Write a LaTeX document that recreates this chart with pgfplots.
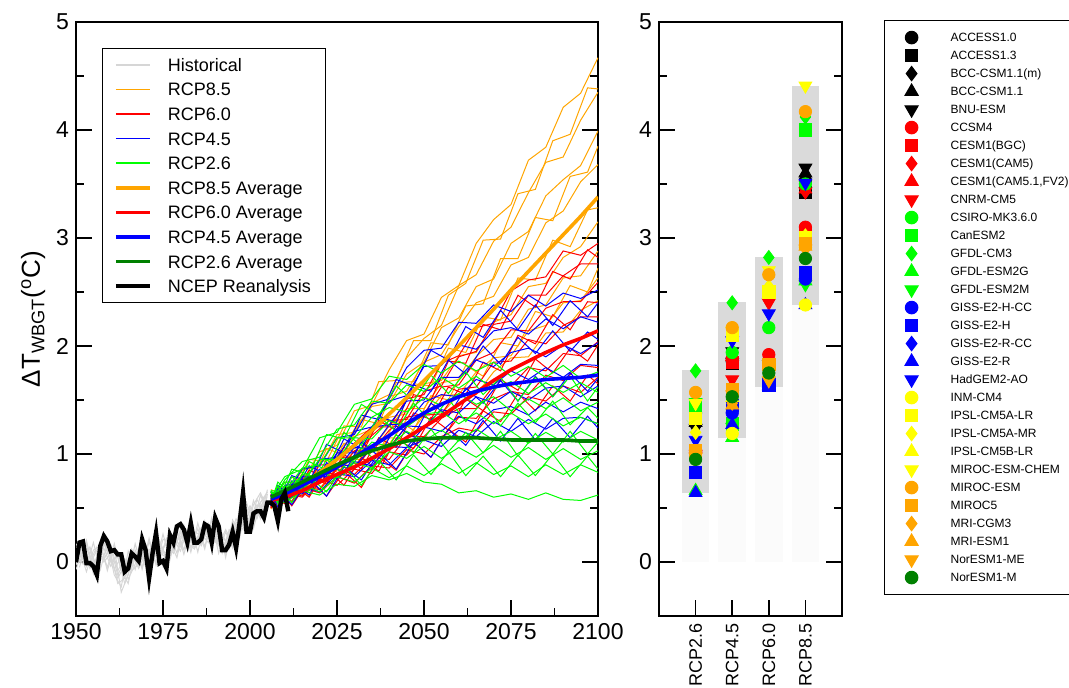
\documentclass[border=0pt]{standalone}
\usepackage{pgfplots}
\usepackage{pgfplotstable}
\pgfplotsset{compat=1.18}
\usepackage{fontspec}
\setmainfont{Liberation Sans}

\definecolor{cOrange}{HTML}{FFA500}
\definecolor{cRed}{HTML}{FF0000}
\definecolor{cBlue}{HTML}{0000FF}
\definecolor{cGreen}{HTML}{00FF00}
\definecolor{cYellow}{HTML}{FFFF00}
\definecolor{cDkGreen}{HTML}{008000}
\definecolor{cHist}{HTML}{D6D6D6}
\definecolor{cRange}{HTML}{DADADA}
\definecolor{cBase}{HTML}{FBFBFB}

% NCEP reanalysis, yearly
\pgfplotstableread{
year v
1950 0.00
1951 0.18
1952 0.19
1953 -0.01
1954 -0.01
1955 -0.04
1956 -0.12
1957 0.15
1958 0.24
1959 0.19
1960 0.10
1961 0.11
1962 0.07
1963 0.07
1964 -0.09
1965 -0.06
1966 0.08
1967 0.05
1968 0.01
1969 0.21
1970 0.11
1971 -0.15
1972 0.08
1973 0.27
1974 -0.01
1975 0.01
1976 -0.06
1977 0.25
1978 0.18
1979 0.33
1980 0.35
1981 0.30
1982 0.18
1983 0.36
1984 0.18
1985 0.18
1986 0.21
1987 0.35
1988 0.33
1989 0.18
1990 0.41
1991 0.33
1992 0.11
1993 0.11
1994 0.16
1995 0.28
1996 0.13
1997 0.36
1998 0.64
1999 0.28
2000 0.28
2001 0.45
2002 0.47
2003 0.47
2004 0.41
2005 0.55
2006 0.55
2007 0.52
2008 0.38
2009 0.58
2010 0.64
2011 0.47
}\ncep

% historical model runs
\pgfplotstableread{
year h1 h2 h3 h4 h5 h6
1950 .17 -.03 .07 -.07 .13 .01
1952 .03 .18 -.02 .12 .20 .00
1954 .14 -.02 .00 .12 -.06 .06
1956 -.06 .11 .14 -.08 .04 -.10
1958 .13 .03 .00 .18 .02 .18
1960 -.04 .13 .08 .00 .16 .04
1962 .08 -.12 -.20 .05 -.08 -.15
1964 -.11 .01 -.15 -.20 .03 -.03
1966 .12 -.06 .07 -.02 -.08 .08
1968 .00 .13 -.04 .10 -.02 -.06
1970 .13 .00 .16 -.04 .10 .08
1972 .00 .13 .03 .18 -.02 .14
1974 .15 .03 .18 .08 .20 .02
1976 .07 .20 .02 .17 .04 .22
1978 .25 .11 .20 .08 .22 .14
1980 .14 .27 .16 .30 .10 .24
1982 .26 .16 .30 .12 .30 .18
1984 .13 .25 .22 .27 .16 .12
1986 .30 .15 .17 .26 .32 .24
1988 .21 .32 .36 .18 .24 .34
1990 .34 .23 .20 .36 .18 .24
1992 .12 .24 .11 .10 .26 .08
1994 .25 .14 .28 .22 .12 .30
1996 .24 .37 .26 .40 .32 .22
1998 .45 .33 .48 .30 .44 .40
2000 .39 .48 .36 .50 .34 .52
2002 .53 .44 .50 .42 .58 .40
2004 .48 .57 .60 .54 .46 .58
2005 .57 .52 .60 .50 .63 .65
}\hist

\pgfplotstableread{
year g1 g2 g3 g4
1951 .19 -.05 .12 -.01
1953 -.04 .20 -.09 .16
1955 .18 -.07 .11 -.11
1957 -.07 .18 .15 .10
1959 .17 -.08 -.05 .19
1961 -.12 .13 .17 -.07
1963 -.23 -.28 -.08 .05
1965 .10 -.12 -.20 -.16
1967 -.07 .17 .11 -.02
1969 .19 -.07 -.05 .17
1971 -.05 .19 .22 -.05
1973 .19 -.01 -.03 .23
1975 -.04 .26 .21 .06
1977 .26 .02 .19 .04
1979 .08 .28 .04 .30
1981 .34 .11 .33 .07
1983 .09 .35 .13 .31
1985 .36 .09 .31 .16
1987 .14 .37 .12 .38
1989 .39 .17 .41 .15
1991 .08 .34 .17 .30
1993 .28 .04 .30 .08
1995 .13 .35 .17 .39
1997 .49 .22 .44 .26
1999 .30 .55 .28 .50
2001 .57 .35 .53 .31
2003 .40 .62 .64 .55
2005 .67 .47 .50 .65
}\histb

\pgfplotstableread{
year m1 m2 m3 m4 m5 m6 m7 m8 avg
2006 .57 .62 .53 .67 .49 .61 .54 .63 .57
2010 .74 .59 .71 .61 .67 .68 .69 .56 .63
2015 .74 .85 .73 .80 .78 .64 .62 .71 .72
2020 1.02 .89 .94 .79 .76 .85 .81 .68 .83
2025 1.08 1.18 .95 1.04 .97 .85 .91 .88 .95
2030 1.40 1.20 1.23 1.16 .96 1.03 .89 .95 1.08
2035 1.45 1.47 1.44 1.23 1.20 1.04 1.08 .95 1.22
2040 1.78 1.55 1.47 1.53 1.34 1.26 1.09 1.15 1.37
2045 2.05 1.89 1.74 1.58 1.37 1.42 1.32 1.14 1.52
2050 2.11 2.07 1.85 1.85 1.65 1.42 1.34 1.36 1.68
2055 2.45 2.19 2.17 1.92 1.68 1.66 1.54 1.37 1.84
2060 2.56 2.56 2.26 2.18 1.91 1.69 1.55 1.55 2.00
2065 2.95 2.66 2.55 2.40 1.94 1.90 1.76 1.55 2.17
2070 3.17 2.97 2.62 2.46 2.22 2.06 1.89 1.76 2.34
2075 3.31 3.10 2.95 2.75 2.29 2.08 1.91 1.89 2.52
2080 3.72 3.42 3.06 2.82 2.55 2.34 2.14 1.90 2.69
2085 3.84 3.70 3.39 3.14 2.58 2.38 2.19 2.12 2.86
2090 4.21 3.75 3.54 3.25 2.82 2.63 2.40 2.13 3.03
2095 4.34 4.09 3.67 3.52 2.92 2.65 2.42 2.33 3.20
2100 4.67 4.35 3.99 3.68 3.15 2.88 2.63 2.42 3.38
}\rcpEF

\pgfplotstableread{
year x1 x2 x3 x4
2006 .57 .62 .51 .65
2008 .71 .52 .69 .52
2012 .63 .79 .60 .74
2017 .95 .70 .85 .61
2022 .93 1.05 .79 .88
2027 1.26 .99 1.10 .80
2032 1.25 1.32 1.02 1.11
2037 1.67 1.28 1.34 1.02
2042 1.68 1.66 1.28 1.32
2047 2.05 1.67 1.65 1.22
2052 2.05 2.03 1.63 1.54
2057 2.47 2.01 1.98 1.50
2062 2.58 2.37 1.94 1.82
2067 2.98 2.39 2.27 1.72
2072 2.99 2.81 2.24 2.03
2077 3.41 2.81 2.63 2.00
2082 3.45 3.19 2.61 2.32
2087 3.90 3.16 2.98 2.27
2092 3.96 3.57 2.92 2.56
2097 4.39 3.61 3.26 2.50
2100 4.38 3.85 3.28 2.72
}\rcpEFb

\pgfplotstableread{
year m1 m2 m3 m4 m5 m6 m7 avg
2006 .57 .51 .62 .53 .60 .50 .61 .57
2010 .68 .65 .56 .67 .54 .64 .55 .60
2015 .66 .77 .72 .61 .70 .60 .69 .66
2020 .90 .76 .84 .80 .67 .77 .64 .74
2025 .90 .97 .81 .89 .86 .71 .79 .81
2030 1.10 .97 1.03 .86 .81 .86 .73 .88
2035 1.25 1.17 1.02 1.06 .97 .82 .89 .96
2040 1.25 1.31 1.22 1.06 .95 1.02 .87 1.05
2045 1.51 1.32 1.34 1.26 1.16 .99 1.04 1.15
2050 1.55 1.58 1.37 1.36 1.16 1.16 1.00 1.25
2055 1.84 1.63 1.62 1.37 1.33 1.14 1.16 1.35
2060 1.91 1.90 1.64 1.60 1.42 1.34 1.24 1.46
2065 2.17 1.95 1.87 1.62 1.42 1.33 1.21 1.57
2070 2.21 2.20 1.94 1.85 1.63 1.51 1.39 1.68
2075 2.51 2.23 2.15 1.86 1.63 1.58 1.37 1.78
2080 2.61 2.47 2.14 2.06 1.80 1.55 1.53 1.86
2085 2.64 2.47 2.35 2.02 1.77 1.73 1.49 1.94
2090 2.88 2.65 2.41 2.19 1.93 1.68 1.63 2.01
2095 2.84 2.76 2.41 2.27 1.91 1.82 1.57 2.07
2100 2.95 2.76 2.59 2.27 2.04 1.80 1.71 2.14
}\rcpSX

\pgfplotstableread{
year x1 x2 x3 x4
2006 .60 .50 .63 .52
2008 .68 .66 .49 .68
2012 .56 .53 .72 .52
2017 .85 .80 .60 .76
2022 .77 .72 .86 .61
2027 1.06 1.00 .71 .84
2032 .99 .86 .97 .69
2037 1.31 1.15 .84 .97
2042 1.22 1.06 1.14 .85
2047 1.55 1.38 1.05 1.11
2052 1.50 1.32 1.34 .97
2057 1.86 1.62 1.22 1.23
2062 1.84 1.55 1.51 1.11
2067 2.20 1.85 1.40 1.40
2072 2.15 1.77 1.69 1.30
2077 2.47 2.10 1.59 1.56
2082 2.36 2.02 1.88 1.40
2087 2.69 2.29 1.75 1.63
2092 2.62 2.15 1.98 1.49
2097 2.89 2.41 1.86 1.73
2100 2.82 2.40 2.01 1.65
}\rcpSXb

\pgfplotstableread{
year m1 m2 m3 m4 m5 m6 m7 avg
2006 .63 .53 .65 .55 .62 .52 .61 .58
2010 .61 .71 .60 .68 .56 .66 .56 .63
2015 .86 .73 .79 .66 .75 .63 .70 .71
2020 .89 .95 .78 .86 .73 .80 .65 .79
2025 1.15 .97 1.01 .86 .91 .77 .82 .88
2030 1.18 1.21 1.01 1.06 .88 .93 .79 .97
2035 1.46 1.25 1.25 1.05 1.06 .89 .94 1.07
2040 1.51 1.49 1.27 1.27 1.05 1.07 .90 1.17
2045 1.80 1.54 1.49 1.28 1.26 1.06 1.06 1.28
2050 1.96 1.81 1.50 1.48 1.25 1.25 1.13 1.38
2055 1.98 1.82 1.71 1.55 1.41 1.21 1.07 1.46
2060 2.22 2.01 1.71 1.53 1.38 1.35 1.22 1.53
2065 2.21 1.97 1.87 1.69 1.53 1.28 1.16 1.58
2070 2.38 2.14 1.81 1.64 1.47 1.41 1.30 1.62
2075 2.32 2.17 1.94 1.77 1.58 1.44 1.21 1.65
2080 2.47 2.11 1.98 1.69 1.50 1.36 1.32 1.67
2085 2.37 2.25 1.90 1.80 1.61 1.48 1.23 1.69
2090 2.49 2.16 2.01 1.71 1.63 1.39 1.33 1.70
2095 2.44 2.27 1.93 1.83 1.53 1.48 1.34 1.71
2100 2.52 2.22 2.03 1.82 1.63 1.42 1.28 1.73
}\rcpFF

\pgfplotstableread{
year x1 x2 x3 x4
2006 .62 .52 .65 .54
2008 .55 .71 .51 .68
2012 .80 .60 .75 .53
2017 .74 .89 .62 .77
2022 1.09 .81 .92 .61
2027 1.01 1.14 .82 .88
2032 1.36 1.05 1.11 .76
2037 1.32 1.35 .98 1.01
2042 1.69 1.29 1.26 .86
2047 1.63 1.64 1.16 1.11
2052 1.96 1.58 1.47 .97
2057 1.87 1.87 1.35 1.23
2062 2.18 1.74 1.61 1.08
2067 2.08 2.00 1.47 1.31
2072 2.33 1.83 1.68 1.12
2077 2.15 2.08 1.49 1.33
2082 2.38 1.93 1.72 1.13
2087 2.19 2.14 1.53 1.33
2092 2.42 1.95 1.75 1.15
2097 2.27 2.13 1.58 1.35
2100 2.40 2.06 1.70 1.24
}\rcpFFb

\pgfplotstableread{
year m1 m2 m3 m4 m5 m6 m7 m8 avg
2006 .60 .55 .66 .56 .65 .54 .64 .58 .60
2010 .79 .76 .65 .74 .61 .70 .58 .55 .66
2015 .86 .93 .87 .74 .81 .67 .72 .66 .74
2020 1.15 .97 .90 .95 .79 .83 .65 .62 .82
2025 1.20 1.23 1.15 .95 .97 .78 .79 .72 .90
2030 1.46 1.27 1.15 1.15 .93 .92 .74 .70 .97
2035 1.51 1.49 1.34 1.14 1.11 .87 .87 .80 1.03
2040 1.72 1.47 1.43 1.31 1.07 1.02 .78 .76 1.08
2045 1.69 1.64 1.39 1.25 1.21 .96 .89 .82 1.12
2050 1.83 1.58 1.52 1.37 1.12 1.07 .80 .74 1.14
2055 1.75 1.71 1.45 1.39 1.22 .96 .91 .72 1.15
2060 1.86 1.61 1.56 1.28 1.12 1.06 .82 .64 1.15
2065 1.77 1.72 1.46 1.38 1.23 .97 .92 .66 1.15
2070 1.85 1.60 1.53 1.28 1.13 1.08 .81 .60 1.14
2075 1.72 1.67 1.40 1.38 1.21 .97 .89 .63 1.13
2080 1.81 1.56 1.51 1.28 1.10 1.06 .79 .58 1.13
2085 1.71 1.66 1.42 1.37 1.20 .95 .90 .64 1.13
2090 1.82 1.57 1.52 1.26 1.11 1.05 .81 .58 1.13
2095 1.70 1.66 1.40 1.34 1.21 .95 .90 .57 1.12
2100 1.76 1.57 1.48 1.28 1.13 1.03 .83 .62 1.12
}\rcpTS

\pgfplotstableread{
year x1 x2 x3 x4
2006 .65 .55 .66 .56
2008 .56 .74 .54 .70
2012 .86 .63 .79 .55
2017 .81 .93 .66 .79
2022 1.18 .85 .95 .65
2027 1.14 1.20 .81 .89
2032 1.46 1.08 1.06 .71
2037 1.36 1.35 .91 .94
2042 1.63 1.21 1.18 .76
2047 1.49 1.47 1.01 .99
2052 1.73 1.30 1.23 .81
2057 1.56 1.51 1.02 1.02
2062 1.76 1.30 1.20 .80
2067 1.55 1.49 1.01 .98
2072 1.71 1.26 1.21 .79
2077 1.49 1.47 .98 .99
2082 1.71 1.29 1.19 .80
2087 1.53 1.49 1.00 1.00
2092 1.72 1.27 1.21 .79
2097 1.49 1.43 1.00 .98
2100 1.62 1.33 1.11 .86
}\rcpTSb

\pgfplotsset{
  panel/.style={
    scale only axis, height=297pt, ymin=-0.5, ymax=5,
    ytick={0,1,2,3,4,5}, minor y tick num=1,
    tick align=inside, xtick pos=left, ytick pos=both,
    major tick length=8pt, minor tick length=4pt,
    axis line style={line width=0.9pt},
    every tick/.style={black, line width=0.8pt},
    tick label style={font=\fontsize{11.5}{13}\selectfont},
    /pgf/number format/assume math mode=true,
    /pgf/number format/1000 sep={},
  },
  memb/.style={line width=0.5pt, forget plot},
  cir/.style={only marks, mark=*, color=#1},
  sqr/.style={only marks, mark=square*, color=#1},
  dia/.style={only marks, mark=diamond*, color=#1, mark size=3.5pt},
  tri/.style={only marks, mark=triangle*, color=#1, mark size=3.7pt},
  dtr/.style={only marks, mark=triangle*, color=#1, mark size=3.7pt, mark options={rotate=180}},
}

\begin{document}
\begin{tikzpicture}
\useasboundingbox (-38pt,-36pt) rectangle (496.5pt,308pt);

\begin{axis}[panel,
  at={(0pt,0pt)}, anchor=south west, width=261pt,
  xmin=1950, xmax=2100, xtick={1950,1975,2000,2025,2050,2075,2100}, minor x tick num=1,
  ylabel={ΔT\textsubscript{WBGT}(\textsuperscript{o}C)},
  ylabel style={at={(axis description cs:-0.082,0.5)}, anchor=center, font=\fontsize{13}{15}\selectfont},
  legend style={at={(0.0498,0.956)}, anchor=north west, draw=black, line width=0.6pt,
    font=\fontsize{9}{10}\selectfont, inner xsep=5.5pt, inner ysep=1.85pt,
    nodes={inner xsep=2pt, inner ysep=0pt, text height=9.45pt, text depth=2.85pt}},
  legend cell align=left,
  legend image code/.code={\draw[#1] (0pt,0pt) -- (17pt,0pt); \path[draw=none] (24pt,0pt);},
]
% historical runs
\foreach \c in {h1,h2,h3,h4,h5,h6} {
  \addplot[memb, cHist] table[y=\c] {\hist};
}
\foreach \c in {g1,g2,g3,g4} {
  \addplot[memb, cHist] table[y=\c] {\histb};
}
% scenario members
\foreach \c in {m1,m2,m3,m4,m5,m6,m7,m8} {
  \addplot[memb, cOrange] table[y=\c] {\rcpEF};
}
\foreach \c in {x1,x2,x3,x4} {
  \addplot[memb, cOrange] table[y=\c] {\rcpEFb};
}
\foreach \c in {m1,m2,m3,m4,m5,m6,m7} {
  \addplot[memb, cRed] table[y=\c] {\rcpSX};
}
\foreach \c in {x1,x2,x3,x4} {
  \addplot[memb, cRed] table[y=\c] {\rcpSXb};
}
\foreach \c in {m1,m2,m3,m4,m5,m6,m7} {
  \addplot[memb, cBlue] table[y=\c] {\rcpFF};
}
\foreach \c in {x1,x2,x3,x4} {
  \addplot[memb, cBlue] table[y=\c] {\rcpFFb};
}
\foreach \c in {m1,m2,m3,m4,m5,m6,m7,m8} {
  \addplot[memb, cGreen] table[y=\c] {\rcpTS};
}
\foreach \c in {x1,x2,x3,x4} {
  \addplot[memb, cGreen] table[y=\c] {\rcpTSb};
}
% ensemble averages
\addplot[cOrange, line width=1.8pt, forget plot] table[y=avg] {\rcpEF};
\addplot[cRed, line width=1.8pt, forget plot] table[y=avg] {\rcpSX};
\addplot[cBlue, line width=1.8pt, forget plot] table[y=avg] {\rcpFF};
\addplot[cDkGreen, line width=1.8pt, forget plot] table[y=avg] {\rcpTS};
% reanalysis
\addplot[black, line width=2.2pt, forget plot] table[y=v] {\ncep};

\addlegendimage{cHist, line width=1pt}\addlegendentry{Historical}
\addlegendimage{cOrange, line width=0.8pt}\addlegendentry{RCP8.5}
\addlegendimage{cRed, line width=0.8pt}\addlegendentry{RCP6.0}
\addlegendimage{cBlue, line width=0.8pt}\addlegendentry{RCP4.5}
\addlegendimage{cGreen, line width=0.8pt}\addlegendentry{RCP2.6}
\addlegendimage{cOrange, line width=1.8pt}\addlegendentry{RCP8.5 Average}
\addlegendimage{cRed, line width=1.8pt}\addlegendentry{RCP6.0 Average}
\addlegendimage{cBlue, line width=1.8pt}\addlegendentry{RCP4.5 Average}
\addlegendimage{cDkGreen, line width=1.8pt}\addlegendentry{RCP2.6 Average}
\addlegendimage{black, line width=2.2pt}\addlegendentry{NCEP Reanalysis}
\end{axis}

\begin{axis}[panel,
  at={(291.5pt,0pt)}, anchor=south west, width=91.5pt,
  xmin=0, xmax=5, xtick={1,2,3,4},
  xticklabels={RCP2.6,RCP4.5,RCP6.0,RCP8.5},
  xticklabel style={rotate=90, anchor=east, font=\fontsize{9}{10}\selectfont},
  mark size=3.1pt,
  legend style={at={(1.2295,1.0034)}, anchor=north west, draw=black, line width=0.6pt,
    font=\fontsize{6}{7}\selectfont, inner xsep=3pt, inner ysep=4pt,
    nodes={inner xsep=2pt, inner ysep=0pt, text height=6.65pt, text depth=2.35pt}},
  legend cell align=left,
  legend image code/.code={\path[draw=none] (0pt,0pt) -- (28pt,0pt); \draw[#1] plot coordinates {(10.5pt,0pt)};},
]
% faint base up to the lowest model, then grey range lowest..highest model
\addplot[draw=none, fill=cBase, forget plot]
  coordinates {(0.625,0) (1.375,0) (1.375,0.64) (0.625,0.64)} --cycle;
\addplot[draw=none, fill=cBase, forget plot]
  coordinates {(1.625,0) (2.375,0) (2.375,1.15) (1.625,1.15)} --cycle;
\addplot[draw=none, fill=cBase, forget plot]
  coordinates {(2.625,0) (3.375,0) (3.375,1.62) (2.625,1.62)} --cycle;
\addplot[draw=none, fill=cBase, forget plot]
  coordinates {(3.625,0) (4.375,0) (4.375,2.38) (3.625,2.38)} --cycle;
\addplot[draw=none, fill=cRange, forget plot]
  coordinates {(0.625,0.64) (1.375,0.64) (1.375,1.78) (0.625,1.78)} --cycle;
\addplot[draw=none, fill=cRange, forget plot]
  coordinates {(1.625,1.15) (2.375,1.15) (2.375,2.41) (1.625,2.41)} --cycle;
\addplot[draw=none, fill=cRange, forget plot]
  coordinates {(2.625,1.62) (3.375,1.62) (3.375,2.82) (2.625,2.82)} --cycle;
\addplot[draw=none, fill=cRange, forget plot]
  coordinates {(3.625,2.38) (4.375,2.38) (4.375,4.41) (3.625,4.41)} --cycle;

\addplot[cir=black] coordinates {(2,1.86) (4,3.53)};
\addlegendentry{ACCESS1.0}
\addplot[sqr=black] coordinates {(2,1.84) (4,3.42)};
\addlegendentry{ACCESS1.3}
\addplot[dia=black] coordinates {(1,1.26) (2,1.88) (3,1.84) (4,2.97)};
\addlegendentry{BCC-CSM1.1(m)}
\addplot[tri=black] coordinates {(1,1.29) (2,1.92) (3,1.90) (4,3.60)};
\addlegendentry{BCC-CSM1.1}
\addplot[dtr=black] coordinates {(1,1.24) (2,1.95) (4,3.65)};
\addlegendentry{BNU-ESM}
\addplot[cir=cRed] coordinates {(1,1.03) (2,1.88) (3,1.92) (4,3.10)};
\addlegendentry{CCSM4}
\addplot[sqr=cRed] coordinates {(2,1.85) (4,3.05)};
\addlegendentry{CESM1(BGC)}
\addplot[dia=cRed] coordinates {(1,1.00) (2,1.60) (3,2.43) (4,3.43)};
\addlegendentry{CESM1(CAM5)}
\addplot[tri=cRed] coordinates {(1,1.05) (2,1.90) (4,3.45)};
\addlegendentry{{CESM1(CAM5.1,FV2)}}
\addplot[dtr=cRed] coordinates {(1,1.00) (2,1.69) (3,2.40) (4,3.43)};
\addlegendentry{CNRM-CM5}
\addplot[cir=cGreen] coordinates {(1,1.38) (2,1.94) (3,2.17) (4,3.50)};
\addlegendentry{CSIRO-MK3.6.0}
\addplot[sqr=cGreen] coordinates {(1,1.45) (2,1.28) (4,4.00)};
\addlegendentry{CanESM2}
\addplot[dia=cGreen] coordinates {(1,1.77) (2,2.40) (3,2.82) (4,4.12)};
\addlegendentry{GFDL-CM3}
\addplot[tri=cGreen] coordinates {(1,0.66) (2,1.15) (3,1.65) (4,2.60)};
\addlegendentry{GFDL-ESM2G}
\addplot[dtr=cGreen] coordinates {(1,1.48) (2,1.25) (3,1.67) (4,2.57)};
\addlegendentry{GFDL-ESM2M}
\addplot[cir=cBlue] coordinates {(2,1.38) (4,2.62)};
\addlegendentry{GISS-E2-H-CC}
\addplot[sqr=cBlue] coordinates {(1,0.83) (2,1.45) (3,1.64) (4,2.68)};
\addlegendentry{GISS-E2-H}
\addplot[dia=cBlue] coordinates {(2,1.40)};
\addlegendentry{GISS-E2-R-CC}
\addplot[tri=cBlue] coordinates {(1,0.64) (2,1.27) (3,1.63) (4,2.38)};
\addlegendentry{GISS-E2-R}
\addplot[dtr=cBlue] coordinates {(1,1.13) (2,2.05) (3,2.30) (4,3.51)};
\addlegendentry{HadGEM2-AO}
\addplot[cir=cYellow] coordinates {(2,1.19) (4,2.38)};
\addlegendentry{INM-CM4}
\addplot[sqr=cYellow] coordinates {(1,1.33) (2,2.10) (3,2.50) (4,3.00)};
\addlegendentry{IPSL-CM5A-LR}
\addplot[dia=cYellow] coordinates {(1,1.20) (2,2.12) (3,2.55) (4,3.02)};
\addlegendentry{IPSL-CM5A-MR}
\addplot[tri=cYellow] coordinates {(2,1.52) (4,2.95)};
\addlegendentry{IPSL-CM5B-LR}
\addplot[dtr=cYellow] coordinates {(1,1.47) (2,2.14) (3,2.70) (4,4.41)};
\addlegendentry{MIROC-ESM-CHEM}
\addplot[cir=cOrange] coordinates {(1,1.57) (2,2.17) (3,2.66) (4,4.17)};
\addlegendentry{MIROC-ESM}
\addplot[sqr=cOrange] coordinates {(1,1.03) (2,1.60) (3,1.83) (4,2.95)};
\addlegendentry{MIROC5}
\addplot[dia=cOrange] coordinates {(1,0.98) (2,1.47) (3,1.72) (4,2.90)};
\addlegendentry{MRI-CGM3}
\addplot[tri=cOrange] coordinates {(2,1.45) (4,2.92)};
\addlegendentry{MRI-ESM1}
\addplot[dtr=cOrange] coordinates {(1,0.97) (2,1.55) (3,1.68) (4,2.90)};
\addlegendentry{NorESM1-ME}
\addplot[cir=cDkGreen] coordinates {(1,0.95) (2,1.53) (3,1.75) (4,2.81)};
\addlegendentry{NorESM1-M}
\end{axis}
\end{tikzpicture}
\end{document}
